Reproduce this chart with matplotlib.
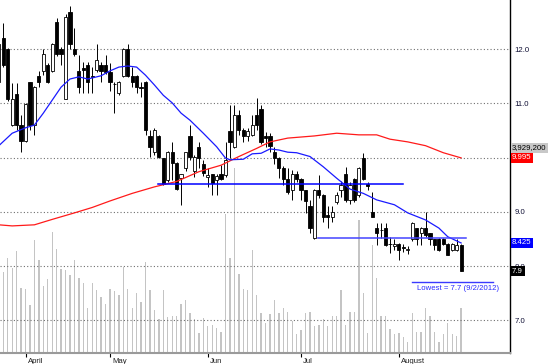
import matplotlib.pyplot as plt
import matplotlib.transforms as mtransforms
import numpy as np

plt.rcParams['font.family'] = ['Liberation Sans', 'DejaVu Sans']

# daily candles, Apr - Aug 2012 (index 0 is the partly hidden first bar)
opens = [11.40, 12.20, 12.00, 10.61, 11.18, 10.60, 10.30, 11.39, 10.61, 11.51,
         11.60, 11.70, 11.60, 12.50, 12.00, 11.09, 12.69, 12.00, 11.60, 11.65,
         11.70, 11.50, 11.62, 11.70, 11.71, 11.58, 11.36, 11.20, 11.50, 12.00,
         11.51, 11.51, 11.30, 11.40, 10.40, 10.11, 10.40, 9.99, 9.59, 10.10,
         9.90, 9.62, 9.80, 10.40, 9.75, 10.20, 9.89, 9.65, 9.69, 9.59,
         9.69, 9.68, 10.50, 10.20, 10.79, 10.51, 10.40, 10.42, 10.79, 10.89,
         10.39, 10.39, 10.11, 10.00, 9.80, 9.60, 9.40, 9.70, 9.60, 9.40,
         9.11, 8.51, 9.40, 9.31, 8.95, 8.91, 9.19, 9.40, 9.70, 9.22,
         9.60, 9.31, 10.00, 9.51, 8.99, 8.70, 8.67, 8.70, 8.40, 8.36,
         8.40, 8.35, 8.30, 8.49, 8.70, 8.60, 8.70, 8.60, 8.49, 8.49,
         8.49, 8.40, 8.30, 8.30, 8.39]
highs = [12.10, 12.48, 12.02, 11.38, 11.38, 10.79, 11.00, 11.40, 11.32, 11.59,
         12.00, 11.75, 12.11, 12.57, 12.05, 12.65, 12.80, 12.39, 11.90, 11.77,
         11.77, 11.68, 12.09, 11.77, 11.89, 11.74, 11.40, 11.42, 12.03, 12.09,
         11.68, 11.52, 11.40, 11.42, 10.51, 10.55, 10.42, 10.00, 10.12, 10.29,
         9.92, 9.70, 10.11, 10.60, 10.05, 10.29, 9.95, 9.80, 9.70, 9.70,
         9.86, 10.29, 10.97, 10.97, 10.88, 10.55, 10.55, 10.79, 11.10, 10.97,
         10.48, 10.45, 10.20, 10.02, 9.85, 9.80, 9.77, 9.75, 9.62, 9.40,
         9.22, 9.42, 9.68, 9.33, 9.10, 9.10, 9.37, 9.56, 9.83, 9.55,
         9.62, 9.83, 10.08, 9.55, 9.37, 8.79, 8.79, 8.79, 8.53, 8.49,
         8.42, 8.40, 8.36, 8.82, 8.71, 8.72, 8.99, 8.61, 8.50, 8.52,
         8.52, 8.42, 8.42, 8.49, 8.40]
lows = [11.35, 11.68, 11.05, 10.58, 10.51, 10.11, 10.28, 10.51, 10.42, 11.31,
        11.52, 11.37, 11.58, 11.88, 11.70, 11.09, 12.00, 11.88, 11.20, 11.20,
        11.20, 11.20, 11.58, 11.40, 11.55, 11.22, 10.82, 11.15, 11.49, 11.49,
        11.31, 11.20, 11.12, 10.42, 10.02, 10.05, 10.00, 9.50, 9.55, 9.59,
        9.40, 9.13, 9.75, 9.95, 9.65, 9.80, 9.66, 9.46, 9.31, 9.31,
        9.58, 9.65, 9.99, 10.18, 10.42, 10.29, 10.30, 10.40, 10.51, 10.26,
        10.20, 10.11, 9.89, 9.62, 9.50, 9.33, 9.22, 9.55, 9.22, 8.98,
        8.61, 8.50, 9.25, 8.82, 8.71, 8.82, 9.15, 9.28, 9.19, 9.15,
        9.18, 9.28, 9.58, 9.40, 8.90, 8.39, 8.51, 8.37, 8.24, 8.29,
        8.11, 8.25, 8.22, 8.47, 8.39, 8.39, 8.54, 8.39, 8.30, 8.28,
        8.38, 8.20, 8.28, 8.28, 7.90]
closes = [12.09, 11.70, 11.09, 11.09, 10.61, 10.30, 10.99, 10.61, 11.30, 11.39,
          11.91, 11.39, 12.09, 11.91, 11.91, 12.60, 12.09, 11.91, 11.30, 11.62,
          11.40, 11.48, 11.80, 11.60, 11.58, 11.40, 11.35, 11.40, 12.00, 11.51,
          11.40, 11.30, 11.28, 10.51, 10.20, 10.51, 10.02, 9.52, 10.10, 9.90,
          9.43, 9.70, 10.10, 10.02, 10.02, 9.99, 9.71, 9.68, 9.53, 9.66,
          9.60, 9.96, 10.29, 10.79, 10.51, 10.40, 10.50, 10.60, 10.60, 10.29,
          10.36, 10.21, 10.00, 9.80, 9.60, 9.37, 9.70, 9.60, 9.40, 9.20,
          8.71, 9.40, 9.31, 8.91, 8.91, 9.00, 9.31, 9.49, 9.22, 9.49,
          9.22, 9.80, 9.60, 9.48, 8.90, 8.60, 8.66, 8.39, 8.41, 8.40,
          8.30, 8.33, 8.31, 8.80, 8.49, 8.70, 8.57, 8.49, 8.39, 8.30,
          8.40, 8.20, 8.40, 8.39, 7.90]
# volume, millions of shares
volumes = [6.00, 7.05, 8.27, 7.45, 8.93, 5.70, 5.59, 4.19, 9.86, 8.12,
           5.85, 6.46, 10.54, 9.05, 7.33, 7.25, 6.81, 8.12, 6.57, 6.14,
           3.95, 6.14, 5.50, 4.92, 4.28, 5.59, 5.41, 5.06, 7.48, 5.59,
           3.95, 5.21, 4.43, 7.97, 5.50, 3.75, 2.94, 5.50, 3.17, 3.26,
           3.26, 4.28, 4.63, 3.52, 2.97, 1.72, 3.08, 2.36, 2.44, 2.21,
           1.83, 12.13, 8.32, 16.12, 6.87, 5.60, 5.50, 8.99, 5.06, 3.47,
           2.65, 3.40, 4.63, 3.47, 3.95, 3.55, 2.82, 1.63, 2.01, 3.47,
           3.61, 2.38, 2.44, 2.94, 2.36, 3.23, 3.26, 5.50, 2.44, 3.55,
           3.55, 11.61, 5.21, 1.75, 9.43, 6.52, 3.23, 3.23, 2.10, 1.63,
           1.72, 1.42, 0.99, 3.47, 1.86, 1.86, 3.95, 3.23, 1.81, 0.99,
           1.63, 2.59, 1.66, 1.48, 3.929]

# moving averages (bar index, value)
ma_fast_idx = [0, 3, 6, 8, 10, 12, 14, 16, 18, 20, 23, 25, 27, 29, 31, 33, 35, 37,
               39, 41, 43, 46, 49, 51, 52, 55, 57, 59, 61, 63, 65, 67, 70, 73,
               76, 79, 82, 85, 89, 92, 96, 99, 101, 104]
ma_fast = [10.22, 10.45, 10.55, 10.60, 10.82, 11.06, 11.30, 11.45, 11.49, 11.45,
           11.51, 11.60, 11.67, 11.69, 11.67, 11.52, 11.34, 11.15, 11.01, 10.82,
           10.69, 10.45, 10.20, 9.99, 9.96, 9.97, 10.07, 10.08, 10.16, 10.14,
           10.10, 10.09, 10.02, 9.83, 9.62, 9.42, 9.34, 9.22, 9.13, 8.98,
           8.85, 8.70, 8.54, 8.425]
ma_slow_idx = [0, 3, 8, 12, 17, 21, 25, 30, 35, 40, 45, 50, 54, 58, 61, 65, 71,
               76, 81, 85, 88, 92, 96, 100, 104]
ma_slow = [8.76, 8.74, 8.76, 8.86, 8.98, 9.08, 9.20, 9.34, 9.46, 9.56, 9.74, 9.86,
           10.02, 10.17, 10.29, 10.36, 10.40, 10.45, 10.42, 10.42, 10.34, 10.29,
           10.22, 10.09, 9.995]

# drawn support / resistance lines: level, first bar, last bar
hlines = [(9.51, 35.8, 90.9, '#0000ff'), (8.52, 71.8, 105.2, '#4444ff')]
lowest_level = 7.7
lowest_span = (93.0, 111.1)

month_pos = [6, 25, 47, 68, 90]
month_names = ['April', 'May', 'Jun', 'Jul', 'August']
price_ticks = [7, 8, 9, 10, 11, 12]

idx = np.arange(len(opens))
o = np.array(opens)
c = np.array(closes)

fig = plt.figure(figsize=(5.5, 3.64), dpi=100)
rect = [0, 11 / 364, 510 / 550, 353 / 364]
axv = fig.add_axes(rect)
ax = fig.add_axes(rect)
ax.patch.set_visible(False)

# volume underneath
axv.bar(idx, volumes, width=0.3, color='#c4c4c4', linewidth=0)
axv.set_ylim(0, 30.8)
axv.set_xlim(0.258, 115.0)
axv.axis('off')

# price
for y in price_ticks:
    ax.axhline(y, color='#707070', lw=0.8, linestyle=(0, (1, 2)), zorder=1)

ax.vlines(idx, lows, highs, color='black', lw=0.7, zorder=2)
up = c >= o
body = np.maximum(np.abs(c - o), 0.012)
ax.bar(idx, body, bottom=np.minimum(o, c), width=0.72,
       color=np.where(up, 'white', 'black'), edgecolor='black', lw=0.6, zorder=3)

ax.plot(ma_slow_idx, ma_slow, color='#ff1a1a', lw=0.9, zorder=4)
ax.plot(ma_fast_idx, ma_fast, color='#1a1aff', lw=0.9, zorder=4)
for lvl, x0, x1, col in hlines:
    ax.plot([x0, x1], [lvl, lvl], color=col, lw=1.1, zorder=4)
ax.plot(lowest_span, [lowest_level, lowest_level], color='#3a3aff', lw=1.0, zorder=4)
ax.text(94, lowest_level - 0.05, 'Lowest = 7.7 (9/2/2012)', color='#2a2aff',
        fontsize=5.6, va='top', ha='left', zorder=5)

ax.set_xlim(0.258, 115.0)
ax.set_ylim(6.395, 12.908)

# the 10.0 label sits behind the red value box, so it is left blank
ax.yaxis.tick_right()
ax.set_yticks(price_ticks)
ax.set_yticklabels(['' if t == 10 else '%.1f' % t for t in price_ticks])
ax.tick_params(axis='y', length=0, pad=3, labelsize=5.6, labelcolor='#101035')
ax.set_xticks(month_pos)
ax.set_xticklabels(month_names, ha='left')
ax.tick_params(axis='x', direction='out', length=3, width=0.8, pad=0.5,
               labelsize=5.6, labelcolor='#202020')
shift = mtransforms.ScaledTranslation(1.5 / 72, 0, fig.dpi_scale_trans)
for lab in ax.get_xticklabels():
    lab.set_transform(lab.get_transform() + shift)

for s in ['left', 'top']:
    ax.spines[s].set_visible(False)
ax.spines['right'].set_color('black')
ax.spines['right'].set_linewidth(1.0)
ax.spines['bottom'].set_color('#9a9a9a')
ax.spines['bottom'].set_linewidth(1.5)

# value boxes on the right edge
boxes = [(10.18, '3,929,200', '#c8c8c8', 'black'),
         (ma_slow[-1], '%.3f' % ma_slow[-1], '#ff0000', 'white'),
         (ma_fast[-1], '%.3f' % ma_fast[-1], '#0000ff', 'white'),
         (closes[-1], '%.1f' % closes[-1], 'black', 'white')]
for yv, txt, bg, fg in boxes:
    ax.annotate(txt, xy=(1, yv), xycoords=('axes fraction', 'data'),
                xytext=(1.5, 0), textcoords='offset points', va='center', ha='left',
                fontsize=5.6, color=fg, annotation_clip=False, zorder=6,
                bbox=dict(boxstyle='square,pad=0.2', fc=bg, ec='none'))

fig.savefig('out.png', dpi=100)
